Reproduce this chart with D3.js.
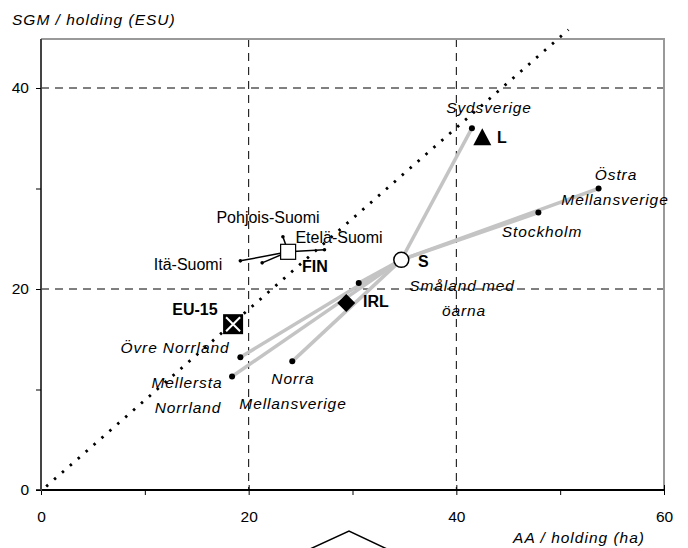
<!DOCTYPE html>
<html>
<head>
<meta charset="utf-8">
<script src="https://cdn.jsdelivr.net/npm/d3@7"></script>
<style>
  body { margin: 0; background: #fff; }
  text { font-family: "Liberation Sans", Arial, sans-serif; }
</style>
</head>
<body>
<div id="chart"></div>
<script>
// Swedish regions, joined to S (Sweden) by grey lines
const seRegions = ["Sydsverige", "Östra Mellansverige", "Stockholm", "Småland med öarna", "Övre Norrland", "Mellersta Norrland", "Norra Mellansverige"];
const seAA  = [41.5, 53.7, 47.9, 30.6, 19.2, 18.4, 24.2];
const seSGM = [36.0, 30.0, 27.6, 20.6, 13.2, 11.3, 12.8];

// Finnish regions, joined to FIN by thin black lines
const fiRegions = ["Itä-Suomi", "", "Etelä-Suomi", "Pohjois-Suomi"];
const fiAA  = [19.2, 21.3, 27.3, 23.3];
const fiSGM = [22.8, 22.6, 23.9, 25.2];

// countries
const countries = ["S", "FIN", "IRL", "L", "EU-15"];
const cAA  = [34.7, 23.8, 29.4, 42.5, 18.5];
const cSGM = [22.9, 23.7, 18.6, 35.1, 16.5];

const xTicks = [0, 10, 20, 30, 40, 50, 60];
const yTicks = [0, 10, 20, 30, 40];
const xLabels = [0, 20, 40, 60];
const yLabels = [0, 20, 40];

const W = 688, H = 548;
const svg = d3.select("#chart").append("svg").attr("width", W).attr("height", H);

let x = d3.scaleLinear().domain([0, 60]).range([41, 664]);
let y = d3.scaleLinear().domain([0, 40]).range([490, 88]);
const yTop = 39;

// grid
[20, 40].forEach(v => {
  svg.append("line").attr("x1", x(v)).attr("x2", x(v)).attr("y1", yTop).attr("y2", y(0))
    .attr("stroke", "#000").attr("stroke-dasharray", "8,6").attr("stroke-width", 1);
  svg.append("line").attr("x1", x(0)).attr("x2", x(60)).attr("y1", y(v)).attr("y2", y(v))
    .attr("stroke", "#000").attr("stroke-dasharray", "8,6").attr("stroke-width", 1);
});

// frame top/right
svg.append("path").attr("d", `M${x(0)},${yTop}H${x(60)}V${y(0)}`)
  .attr("fill", "none").attr("stroke", "#999").attr("stroke-width", 2);

// axes
let xAxis = svg.append("g").attr("transform", `translate(0,${y(0)})`)
  .call(d3.axisBottom(x).tickValues(xTicks).tickSize(5).tickFormat(d => xLabels.includes(d) ? d : ""));
let yAxis = svg.append("g").attr("transform", `translate(${x(0)},0)`)
  .call(d3.axisLeft(y).tickValues(yTicks).tickSize(5).tickFormat(d => yLabels.includes(d) ? d : ""));
xAxis.select(".domain").attr("stroke", "#000").attr("stroke-width", 2).attr("d", `M${x(0)},0H${x(60)}`);
yAxis.select(".domain").attr("stroke", "#444").attr("stroke-width", 2).attr("d", `M-5,${y(0)}H0V${yTop}`);
xAxis.selectAll(".tick line").attr("y1", d => xLabels.includes(d) ? -5 : 0);
xAxis.selectAll("text").attr("font-size", 15.5).attr("y", 21).attr("fill", "#000");
yAxis.selectAll("text").attr("font-size", 15.5).attr("x", -12).attr("fill", "#000");

// dotted trend line y = 0.9x
svg.append("line").attr("x1", x(0.5)).attr("y1", y(0.35)).attr("x2", x(50.8)).attr("y2", y(45.8))
  .attr("stroke", "#000").attr("stroke-width", 2.8).attr("stroke-dasharray", "2.5,8");

// grey lines from S
const sIdx = countries.indexOf("S");
seRegions.forEach((n, i) => {
  svg.append("line").attr("x1", x(cAA[sIdx])).attr("y1", y(cSGM[sIdx]))
    .attr("x2", x(seAA[i])).attr("y2", y(seSGM[i]))
    .attr("stroke", "#c4c4c4").attr("stroke-width", 3.5);
});
svg.selectAll(".sedot").data(seRegions).enter().append("circle")
  .attr("cx", (d, i) => x(seAA[i])).attr("cy", (d, i) => y(seSGM[i])).attr("r", 3).attr("fill", "#000");

// Finnish lines
const fIdx = countries.indexOf("FIN");
fiRegions.forEach((n, i) => {
  svg.append("line").attr("x1", x(cAA[fIdx])).attr("y1", y(cSGM[fIdx]))
    .attr("x2", x(fiAA[i])).attr("y2", y(fiSGM[i]))
    .attr("stroke", "#000").attr("stroke-width", 1.5);
});
svg.selectAll(".fidot").data(fiRegions).enter().append("circle")
  .attr("cx", (d, i) => x(fiAA[i])).attr("cy", (d, i) => y(fiSGM[i])).attr("r", 1.8).attr("fill", "#000");

// country markers
const cx = i => x(cAA[i]), cy = i => y(cSGM[i]);
let i;
i = countries.indexOf("S");
svg.append("circle").attr("cx", cx(i)).attr("cy", cy(i)).attr("r", 7.5)
  .attr("fill", "#fff").attr("stroke", "#000").attr("stroke-width", 1.5);
i = countries.indexOf("FIN");
svg.append("rect").attr("x", cx(i) - 7.5).attr("y", cy(i) - 7.5).attr("width", 15).attr("height", 15)
  .attr("fill", "#fff").attr("stroke", "#000").attr("stroke-width", 1.2);
i = countries.indexOf("IRL");
svg.append("path").attr("transform", `translate(${cx(i)},${cy(i)})`)
  .attr("d", "M0,-9L9,0L0,9L-9,0Z").attr("fill", "#000");
i = countries.indexOf("L");
svg.append("path").attr("transform", `translate(${cx(i)},${cy(i)})`)
  .attr("d", "M0,-9L9,8L-9,8Z").attr("fill", "#000");
i = countries.indexOf("EU-15");
svg.append("rect").attr("x", cx(i) - 10).attr("y", cy(i) - 10).attr("width", 20).attr("height", 20).attr("fill", "#000");
svg.append("path").attr("transform", `translate(${cx(i)},${cy(i)})`)
  .attr("d", "M-7,-7L7,7M7,-7L-7,7").attr("stroke", "#fff").attr("stroke-width", 2);

// labels
function label(t, px, py, opts) {
  opts = opts || {};
  svg.append("text").attr("x", px).attr("y", py).text(t)
    .attr("font-size", opts.size || 15.5)
    .attr("font-style", opts.italic ? "italic" : "normal")
    .attr("font-weight", opts.bold ? "bold" : "normal")
    .attr("letter-spacing", opts.ls || 0)
    .attr("text-anchor", opts.anchor || "start")
    .attr("fill", "#000");
}
const it = { italic: true, anchor: "middle", ls: 0.9 };
label("Sydsverige", 489, 113, it);
label("Östra", 616, 180, it);
label("Mellansverige", 615, 205, it);
label("Stockholm", 542, 237, it);
label("Småland med", 462, 291, it);
label("öarna", 464, 316, it);
label("Övre Norrland", 175, 353, it);
label("Mellersta", 187, 388, it);
label("Norrland", 188, 413, it);
label("Norra", 293, 384, it);
label("Mellansverige", 293, 409, it);
label("Pohjois-Suomi", 268, 223, { anchor: "middle", size: 16 });
label("Etelä-Suomi", 339, 243, { anchor: "middle", size: 16 });
label("Itä-Suomi", 188, 270, { anchor: "middle", size: 16 });
label("FIN", 302, 272, { bold: true, size: 16 });
label("S", 418, 267, { bold: true, size: 16 });
label("IRL", 363, 307, { bold: true, size: 16 });
label("L", 497, 143, { bold: true, size: 16 });
label("EU-15", 195, 315, { bold: true, anchor: "middle", size: 16 });

label("SGM / holding (ESU)", 12, 25, { italic: true, ls: 1 });
label("AA / holding (ha)", 645, 543, { italic: true, anchor: "end", ls: 1 });

// stray chevron at bottom edge
svg.append("path").attr("d", "M310,549L349,531L387,549").attr("fill", "none").attr("stroke", "#000").attr("stroke-width", 1.5);
</script>
</body>
</html>
